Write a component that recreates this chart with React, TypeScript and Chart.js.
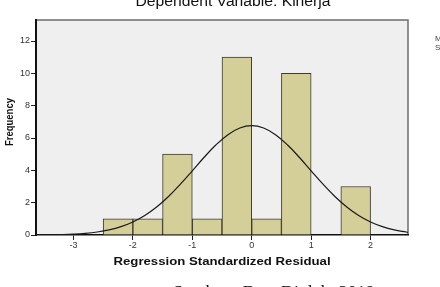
import React, { useEffect, useRef } from "react";
import { Chart, registerables } from "chart.js";

Chart.register(...registerables);

const binCenters = [-2.25, -1.75, -1.25, -0.75, -0.25, 0.25, 0.75, 1.25, 1.75];
const frequencies = [1, 1, 5, 1, 11, 1, 10, 0, 3];

const curveX = [
  -3.66, -3.4, -3.2, -3.0, -2.8, -2.6, -2.4, -2.2, -2.0, -1.8, -1.6, -1.4, -1.2, -1.0, -0.8, -0.6,
  -0.4, -0.2, 0, 0.2, 0.4, 0.6, 0.8, 1.0, 1.2, 1.4, 1.6, 1.8, 2.0, 2.2, 2.4, 2.6, 2.66,
];
const curveY = [
  0.006, 0.014, 0.029, 0.056, 0.104, 0.186, 0.316, 0.515, 0.805, 1.207, 1.732, 2.383, 3.143, 3.971,
  4.81, 5.582, 6.208, 6.618, 6.76, 6.618, 6.208, 5.582, 4.81, 3.971, 3.143, 2.383, 1.732, 1.207,
  0.805, 0.515, 0.316, 0.186, 0.15,
];

const xTicks = [-3, -2, -1, 0, 1, 2];
const yTicks = [0, 2, 4, 6, 8, 10, 12];

const titleText = "Dependent Variable: Kinerja";
const xTitle = "Regression Standardized Residual";
const yTitle = "Frequency";
const sideNotes = ["Mean = -1.02E-15", "Std. Dev. = 0.984"];
const sourceText = "Sumber : Data Diolah, 2018";

function stretchedText(ctx: any, text: string, x: number, y: number, sx: number, align: string) {
  ctx.save();
  ctx.translate(x, y);
  ctx.scale(sx, 1);
  ctx.textAlign = align;
  ctx.fillText(text, 0, 0);
  ctx.restore();
}

const decor = {
  id: "decor",
  beforeDraw(chart: any) {
    const { ctx, chartArea } = chart;
    ctx.save();
    ctx.fillStyle = "#ffffff";
    ctx.fillRect(0, 0, chart.width, chart.height);
    ctx.fillStyle = "#efefef";
    ctx.fillRect(chartArea.left, chartArea.top, chartArea.right - chartArea.left, chartArea.bottom - chartArea.top);
    ctx.strokeStyle = "#6e6e6e";
    ctx.lineWidth = 1.5;
    ctx.beginPath();
    ctx.moveTo(chartArea.left, chartArea.top);
    ctx.lineTo(chartArea.right, chartArea.top);
    ctx.lineTo(chartArea.right, chartArea.bottom);
    ctx.stroke();
    ctx.restore();
  },
  afterDraw(chart: any) {
    const { ctx } = chart;
    ctx.save();
    ctx.fillStyle = "#111";
    ctx.textBaseline = "alphabetic";
    ctx.font = "14px 'Liberation Sans', Arial, sans-serif";
    stretchedText(ctx, titleText, 233, 6, 1.12, "center");

    ctx.textBaseline = "middle";
    ctx.font = "bold 11px 'Liberation Sans', Arial, sans-serif";
    stretchedText(ctx, xTitle, 222, 262, 1.2, "center");

    ctx.save();
    ctx.translate(10, 122);
    ctx.rotate(-Math.PI / 2);
    ctx.scale(0.86, 1);
    ctx.textAlign = "center";
    ctx.font = "bold 11px 'Liberation Sans', Arial, sans-serif";
    ctx.fillText(yTitle, 0, 0);
    ctx.restore();

    ctx.textBaseline = "alphabetic";
    ctx.font = "8px 'Liberation Sans', Arial, sans-serif";
    ctx.fillStyle = "#444";
    sideNotes.forEach((t, i) => stretchedText(ctx, t, 435, 41 + i * 9, 1, "left"));
    ctx.font = "16px 'Liberation Serif', 'Times New Roman', serif";
    ctx.fillStyle = "#111";
    stretchedText(ctx, sourceText, 173, 297, 1.12, "left");
    ctx.restore();
  },
};

export default function App() {
  const ref = useRef<HTMLCanvasElement | null>(null);
  useEffect(() => {
    if (!ref.current) return;
    const chart = new Chart(ref.current, {
      type: "bar",
      data: {
        datasets: [
          {
            type: "line",
            data: curveX.map((x, i) => ({ x, y: curveY[i] })),
            borderColor: "#1a1a1a",
            borderWidth: 1.2,
            pointRadius: 0,
            tension: 0.4,
            fill: false,
            order: 0,
          } as any,
          {
            type: "bar",
            data: binCenters.map((x, i) => ({ x, y: frequencies[i] })),
            backgroundColor: "#d4cf98",
            borderColor: "#3c3a2c",
            borderWidth: 1,
            barPercentage: 1,
            categoryPercentage: 1,
            order: 1,
          } as any,
        ],
      },
      options: {
        responsive: false,
        animation: false,
        devicePixelRatio: 1,
        layout: { padding: { left: 0, top: 20, right: 32, bottom: 14 } },
        plugins: { legend: { display: false }, tooltip: { enabled: false }, title: { display: false } },
        scales: {
          x: {
            type: "linear",
            offset: false,
            min: -3.63,
            max: 2.63,
            afterBuildTicks: (scale: any) => {
              scale.ticks = xTicks.map((v) => ({ value: v }));
            },
            afterFit: (scale: any) => {
              scale.height = 38;
            },
            grid: { offset: false, drawOnChartArea: false, drawTicks: true, tickLength: 5, color: "#222" },
            border: { display: true, color: "#111", width: 1.5 },
            ticks: {
              padding: 0,
              maxRotation: 0,
              autoSkip: false,
              color: "#333",
              font: { family: "'Liberation Sans', Arial, sans-serif", size: 9 },
            },
            title: { display: false },
          },
          y: {
            type: "linear",
            min: 0,
            max: 13.3,
            afterBuildTicks: (scale: any) => {
              scale.ticks = yTicks.map((v) => ({ value: v }));
            },
            afterFit: (scale: any) => {
              scale.width = 36;
            },
            grid: { drawOnChartArea: false, drawTicks: true, tickLength: 5, color: "#222" },
            border: { display: true, color: "#111", width: 2 },
            ticks: {
              padding: 1,
              autoSkip: false,
              color: "#333",
              font: { family: "'Liberation Sans', Arial, sans-serif", size: 9 },
            },
            title: { display: false },
          },
        },
      } as any,
      plugins: [decor],
    });
    return () => chart.destroy();
  }, []);
  return (
    <div style={{ position: "absolute", left: 0, top: 0, width: 440, height: 287 }}>
      <canvas ref={ref} width={440} height={287} style={{ display: "block" }} />
    </div>
  );
}
